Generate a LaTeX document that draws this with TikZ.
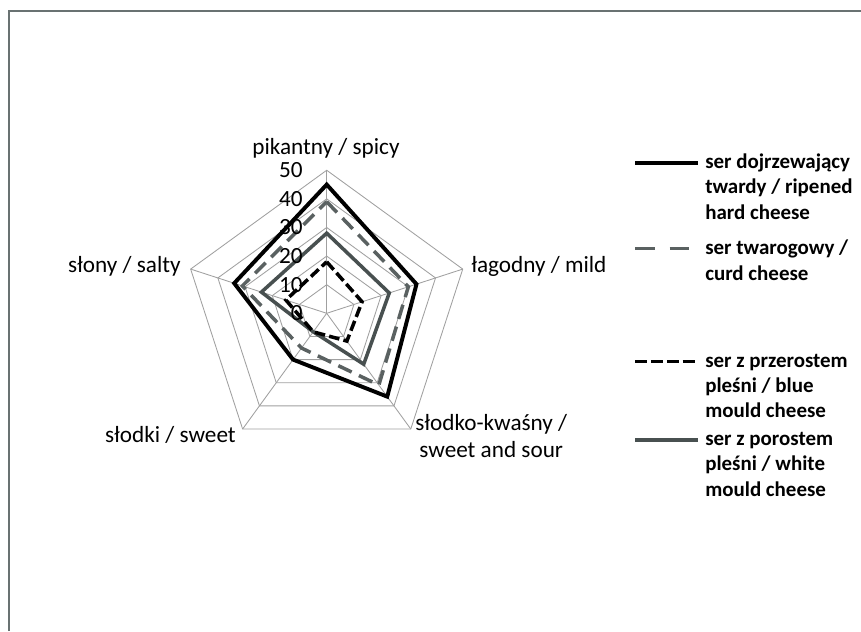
\documentclass[tikz,border=0pt]{standalone}
\usepackage{fontspec}
\setmainfont{Carlito}
\usepackage{tikz}
\usetikzlibrary{positioning}

\definecolor{gridgray}{RGB}{160,160,160}
\definecolor{curdgray}{RGB}{90,97,97}
\definecolor{mouldgray}{RGB}{72,80,80}
\definecolor{framegray}{RGB}{105,114,114}

\begin{document}
\begin{tikzpicture}[x=0.025cm, y=-0.025cm,
		axislab/.style={font=\fontsize{16.5}{19.8}\selectfont, inner sep=0pt},
		ticklab/.style={axislab, anchor=east},
		legtext/.style={font=\bfseries\fontsize{14.9}{18.1}\selectfont, align=left, anchor=base west, inner sep=0pt},
		gridline/.style={gridgray, line width=0.6pt},
		ripened/.style={black, line width=2.8pt},
		curd/.style={curdgray, line width=2.5pt, dash pattern=on 10.5pt off 5.7pt},
		bluemould/.style={black, line width=2.5pt, dash pattern=on 7.5pt off 3pt},
		whitemould/.style={mouldgray, line width=2.5pt}]
			\fill[white] (0,0) rectangle (861,631);
			\useasboundingbox (0,0) rectangle (861,631);
			\draw[framegray, line width=1.6pt] (9,631) -- (9,11) -- (861,11);

			% radar chart
			\begin{scope}[shift={(326.7,313.3)}, x=0.0715cm, y=0.0715cm]
				\foreach \r in {10,20,...,50}
					\draw[gridline] (90:\r) -- (18:\r) -- (-54:\r) -- (-126:\r) -- (162:\r) -- cycle;
				\foreach \a in {90,18,-54,-126,162}
					\draw[gridline] (0,0) -- (\a:50);
				\draw[whitemould] (90:28) -- (18:23) -- (-54:22) -- (-126:8) -- (162:24) -- cycle;
				\draw[bluemould] (90:18) -- (18:13) -- (-54:12) -- (-126:8) -- (162:15) -- cycle;
				\draw[curd] (90:39) -- (18:30) -- (-54:31) -- (-126:15) -- (162:31) -- cycle;
				\draw[ripened] (90:45) -- (18:33) -- (-54:36) -- (-126:20) -- (162:34) -- cycle;
			\end{scope}

			% scale
			\node[ticklab] (t0) at (303,313.3) {0};
			\node[ticklab] (t10) at (303,284.7) {10};
			\node[ticklab] (t20) at (303,256.1) {20};
			\node[ticklab] (t30) at (303,227.5) {30};
			\node[ticklab] (t40) at (303,198.9) {40};
			\node[ticklab] (t50) at (303,170.3) {50};

			% axis names
			\node[axislab] (spicy) at (326,148) {pikantny / spicy};
			\node[axislab, anchor=west] (mild) at (471,266) {łagodny / mild};
			\node[axislab, anchor=west, align=center] (sour) at (415,436) {słodko-kwaśny /\\sweet and sour};
			\node[axislab, anchor=east] (sweet) at (236,435) {słodki / sweet};
			\node[axislab, anchor=east] (salty) at (181,266) {słony / salty};

			% legend (base = last line)
			\coordinate (k1a) at (635,163.3);
			\coordinate (k1b) at (698,163.3);
			\node[legtext] (leg1) at (705,219.4) {ser dojrzewający\\twardy / ripened\\hard cheese};
			\draw[ripened] (k1a) -- (k1b);
			\coordinate (k2a) at (635,248.3);
			\coordinate (k2b) at (690,248.3);
			\node[legtext] (leg2) at (705,280) {ser twarogowy /\\curd cheese};
			\draw[curd, dash pattern=on 14pt off 10.7pt] (k2a) -- (k2b);
			\coordinate (k3a) at (635,361.7);
			\coordinate (k3b) at (698,361.7);
			\node[legtext] (leg3) at (705,417.9) {ser z przerostem\\pleśni / blue\\mould cheese};
			\draw[bluemould, dash pattern=on 8.5pt off 2.8pt] (k3a) -- (k3b);
			\coordinate (k4a) at (635,440);
			\coordinate (k4b) at (698,440);
			\node[legtext] (leg4) at (705,496.2) {ser z porostem\\pleśni / white\\mould cheese};
			\draw[whitemould] (k4a) -- (k4b);
		\end{tikzpicture}
\end{document}
